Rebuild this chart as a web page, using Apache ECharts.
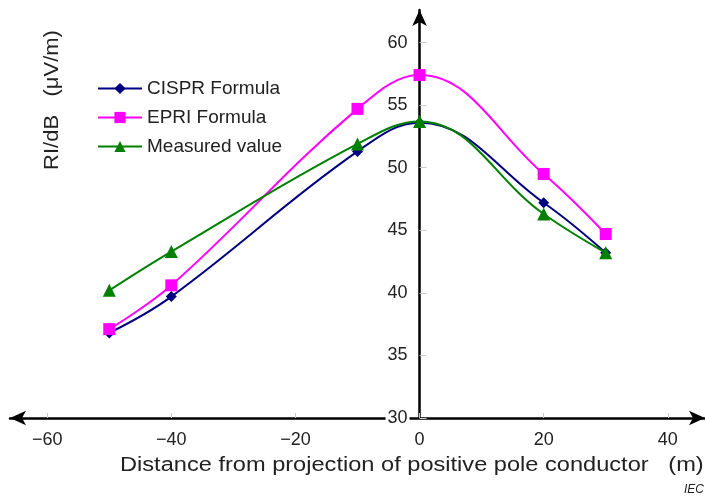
<!DOCTYPE html>
<html>
<head>
<meta charset="utf-8">
<script src="https://cdn.jsdelivr.net/npm/echarts@6/dist/echarts.min.js"></script>
<style>
  html, body { margin: 0; padding: 0; background: #fff; }
  #main { width: 705px; height: 497px; }
</style>
</head>
<body>
<div id="main"></div>
<script>
// 讀圖得到的數據
const distances = [-50, -40, -10, 0, 20, 30];
const cisprValues = [36.8, 39.7, 51.3, 53.6, 47.2, 43.2];
const epriValues = [37.1, 40.6, 54.7, 57.4, 49.5, 44.7];
const measuredValues = [40.2, 43.3, 51.9, 53.7, 46.3, 43.2];
const xTicks = [-60, -40, -20, 0, 20, 40];
const yTicks = [30, 35, 40, 45, 50, 55, 60];

const font = 'Liberation Sans, Arial, sans-serif';
const gridLeft = 10;
const gridRight = 0;
const xMin = -66;
const xMax = 46;
// y軸要放在 x=0 的位置
const yAxisOffset = -(705 - gridLeft - gridRight) * (0 - xMin) / (xMax - xMin);

function pairs(vals) {
    return distances.map((d, i) => [d, vals[i]]);
}

const chart = echarts.init(document.getElementById('main'));

const option = {
    backgroundColor: '#fff',
    animation: false,
    grid: { left: gridLeft, right: gridRight, top: 10, bottom: 79, outerBoundsMode: 'none', containLabel: false },
    legend: {
        orient: 'vertical',
        left: 92,
        top: 74,
        itemWidth: 44,
        itemHeight: 14,
        itemGap: 10,
        textStyle: { fontFamily: font, fontSize: 19, lineHeight: 19, color: '#222' },
        data: ['CISPR Formula', 'EPRI Formula', 'Measured value']
    },
    xAxis: {
        type: 'value',
        min: xMin,
        max: xMax,
        splitLine: { show: false },
        axisLine: {
            onZero: false,
            symbol: ['arrow', 'arrow'],
            symbolSize: [11, 16],
            lineStyle: { color: '#000', width: 2.5 }
        },
        axisTick: {
            inside: true, length: 5,
            customValues: xTicks,
            lineStyle: { color: '#c8c8c8' }
        },
        axisLabel: {
            customValues: xTicks,
            margin: 13,
            fontFamily: font, fontSize: 18, color: '#222',
            formatter: v => (v < 0 ? '\u2212' + Math.abs(v) : String(v))
        }
    },
    yAxis: {
        type: 'value',
        position: 'left',
        offset: yAxisOffset,
        min: 30,
        max: 62.6,
        splitLine: { show: false },
        axisLine: {
            onZero: false,
            symbol: ['none', 'arrow'],
            symbolSize: [11, 16],
            lineStyle: { color: '#000', width: 2.5 }
        },
        axisTick: {
            inside: true, length: 7,
            customValues: yTicks,
            lineStyle: { color: '#c8c8c8' }
        },
        axisLabel: {
            customValues: yTicks,
            margin: 10,
            fontFamily: font, fontSize: 18, color: '#222',
            backgroundColor: '#fff',
            padding: [0, 2, 0, 2]
        }
    },
    graphic: [
        {
            type: 'text',
            x: 52, y: 100,
            rotation: Math.PI / 2,
            scaleX: 1.1,
            style: {
                text: 'RI/dB   (\u03bcV/m)',
                font: '20px ' + font,
                fill: '#222',
                textAlign: 'center',
                textVerticalAlign: 'middle'
            }
        },
        {
            type: 'text',
            x: 120, y: 465,
            scaleX: 1.18,
            style: {
                text: 'Distance from projection of positive pole conductor   (m)',
                font: '20px ' + font,
                fill: '#222',
                textVerticalAlign: 'middle'
            }
        },
        {
            type: 'text',
            x: 704, y: 490,
            style: {
                text: 'IEC',
                font: 'italic 12px ' + font,
                fill: '#222',
                textAlign: 'right',
                textVerticalAlign: 'middle'
            }
        }
    ],
    series: [
        {
            name: 'CISPR Formula',
            type: 'line',
            smooth: 0.4,
            data: pairs(cisprValues),
            symbol: 'diamond',
            symbolSize: 11,
            z: 3,
            itemStyle: { color: '#000080' },
            lineStyle: { color: '#000080', width: 2 }
        },
        {
            name: 'EPRI Formula',
            type: 'line',
            smooth: 0.4,
            data: pairs(epriValues),
            symbol: 'rect',
            symbolSize: 12,
            z: 3,
            itemStyle: { color: '#ff00ff' },
            lineStyle: { color: '#ff00ff', width: 2 }
        },
        {
            name: 'Measured value',
            type: 'line',
            smooth: 0.4,
            data: pairs(measuredValues),
            symbol: 'triangle',
            symbolSize: 13,
            z: 4,
            itemStyle: { color: '#008000' },
            lineStyle: { color: '#008000', width: 2 }
        }
    ]
};

option && chart.setOption(option);
</script>
</body>
</html>
